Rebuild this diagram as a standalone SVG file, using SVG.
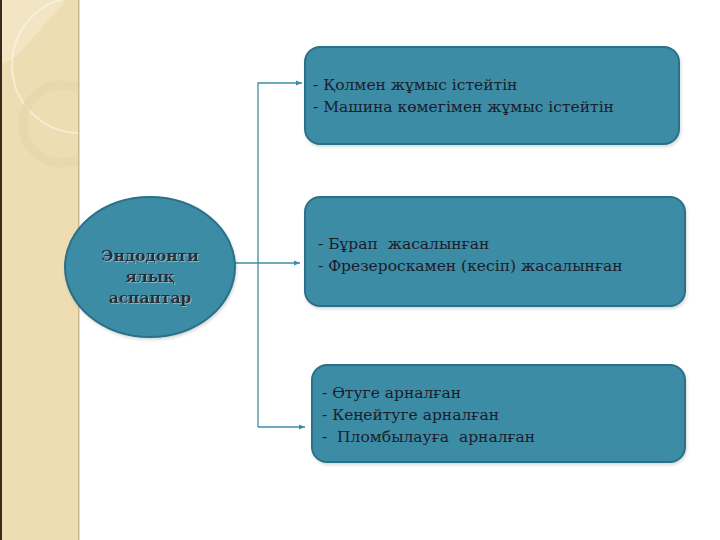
<svg xmlns="http://www.w3.org/2000/svg" width="720" height="540" viewBox="0 0 720 540">
<defs>
<style>
.box{fill:#3C8CA6;stroke:#2C6F86;stroke-width:2}
.txt{font-family:"DejaVu Serif","Liberation Serif",serif;font-size:15.5px;fill:#1B1D2B;white-space:pre}
.etxt{font-family:"DejaVu Serif","Liberation Serif",serif;font-size:15.5px;font-weight:bold;fill:#2A2D36;text-anchor:middle}
.conn{fill:none;stroke:#3E8EA8;stroke-width:1.3}
</style>
<marker id="arr" viewBox="0 0 10 10" refX="10" refY="5" markerWidth="6" markerHeight="6" orient="auto" markerUnits="userSpaceOnUse">
<path d="M0,1 L10,5 L0,9 Z" fill="#3E8EA8"/>
</marker>
<clipPath id="strip"><rect x="0" y="0" width="79" height="540"/></clipPath>
<filter id="sh" x="-5%" y="-5%" width="110%" height="115%">
<feDropShadow dx="1" dy="2" stdDeviation="1.5" flood-color="#000" flood-opacity="0.15"/>
</filter>
<filter id="tsh" x="-5%" y="-20%" width="110%" height="140%">
<feDropShadow dx="1" dy="1" stdDeviation="0.4" flood-color="#ffffff" flood-opacity="0.35"/>
</filter>
</defs>
<rect x="0" y="0" width="720" height="540" fill="#ffffff"/>
<g id="strip-bg">
<rect x="0" y="0" width="79" height="540" fill="#EEDDB2"/>
<g clip-path="url(#strip)">
<path d="M0,0 L66,0 Q40,30 18,55 Q8,62 0,64 Z" fill="#F3E8CB" opacity="0.7"/>
<circle cx="80" cy="65" r="68" fill="none" stroke="#FAF3E1" stroke-width="2" opacity="0.7"/>
<circle cx="62" cy="124" r="39" fill="none" stroke="#E4D5AD" stroke-width="9" opacity="0.7"/>
</g>
<rect x="0" y="0" width="2" height="540" fill="#3B2A1C"/>
<rect x="78" y="0" width="1.5" height="540" fill="#CDB98E"/>
</g>
<g id="connectors">
<path class="conn" d="M235,263 L300,263" marker-end="url(#arr)"/>
<path class="conn" d="M258,427 L258,83 L302,83" marker-end="url(#arr)"/>
<path class="conn" d="M258,427 L305,427" marker-end="url(#arr)"/>
</g>
<g id="node-root">
<ellipse cx="150" cy="267" rx="85" ry="70" class="box" filter="url(#sh)"/>
<g filter="url(#tsh)">
<text class="etxt" x="150" y="261">Эндодонти</text>
<text class="etxt" x="150" y="282">ялық</text>
<text class="etxt" x="150" y="303">аспаптар</text>
</g>
</g>
<g id="node-1">
<rect x="305" y="47" width="374" height="97" rx="15" class="box" filter="url(#sh)"/>
<text class="txt" x="313" y="90">- Қолмен жұмыс істейтін</text>
<text class="txt" x="313" y="112">- Машина көмегімен жұмыс істейтін</text>
</g>
<g id="node-2">
<rect x="305" y="197" width="380" height="109" rx="15" class="box" filter="url(#sh)"/>
<text class="txt" x="318" y="249">- Бұрап  жасалынған</text>
<text class="txt" x="318" y="271">- Фрезероскамен (кесіп) жасалынған</text>
</g>
<g id="node-3">
<rect x="312" y="365" width="373" height="97" rx="15" class="box" filter="url(#sh)"/>
<text class="txt" x="322" y="398">- Өтуге арналған</text>
<text class="txt" x="322" y="420">- Кеңейтуге арналған</text>
<text class="txt" x="322" y="442">-  Пломбылауға  арналған</text>
</g>
</svg>
